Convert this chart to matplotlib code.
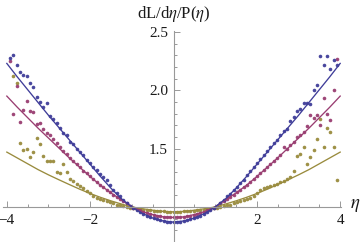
import numpy as np
import matplotlib
matplotlib.use("Agg")
import matplotlib.pyplot as plt
from matplotlib.ticker import MultipleLocator, FixedLocator

plt.rcParams['font.family'] = ['Liberation Serif', 'DejaVu Serif']
plt.rcParams['mathtext.fontset'] = 'stix'

# binned points (eta bin centres)
eta_pts = [-3.92, -3.84, -3.76, -3.68, -3.60, -3.52, -3.44, -3.36, -3.28, -3.20,
           -3.12, -3.04, -2.96, -2.88, -2.80, -2.72, -2.64, -2.56, -2.48, -2.40,
           -2.32, -2.24, -2.16, -2.08, -2.00, -1.92, -1.84, -1.76, -1.68, -1.60,
           -1.52, -1.44, -1.36, -1.28, -1.20, -1.12, -1.04, -0.96, -0.88, -0.80,
           -0.72, -0.64, -0.56, -0.48, -0.40, -0.32, -0.24, -0.16, -0.08, 0.00,
           0.08, 0.16, 0.24, 0.32, 0.40, 0.48, 0.56, 0.64, 0.72, 0.80,
           0.88, 0.96, 1.04, 1.12, 1.20, 1.28, 1.36, 1.44, 1.52, 1.60,
           1.68, 1.76, 1.84, 1.92, 2.00, 2.08, 2.16, 2.24, 2.32, 2.40,
           2.48, 2.56, 2.64, 2.72, 2.80, 2.88, 2.96, 3.04, 3.12, 3.20,
           3.28, 3.36, 3.44, 3.52, 3.60, 3.68, 3.76, 3.84, 3.92]

blue_pts = [2.28, 2.30, 2.22, 2.16, 2.13, 2.12, 2.06, 2.03, 1.94, 1.90,
            1.86, 1.89, 1.78, 1.75, 1.72, 1.68, 1.63, 1.62, 1.56, 1.54,
            1.50, 1.47, 1.445, 1.40, 1.375, 1.345, 1.317, 1.28, 1.26, 1.23,
            1.19, 1.146, 1.117, 1.09, 1.06, 1.03, 1.01, 0.99, 0.97, 0.955,
            0.94, 0.925, 0.915, 0.905, 0.895, 0.885, 0.88, 0.875, 0.872, 0.87,
            0.872, 0.875, 0.88, 0.885, 0.895, 0.905, 0.915, 0.925, 0.94, 0.955,
            0.97, 0.99, 1.01, 1.035, 1.06, 1.09, 1.115, 1.145, 1.175, 1.205,
            1.235, 1.27, 1.305, 1.34, 1.375, 1.41, 1.445, 1.48, 1.515, 1.545,
            1.575, 1.615, 1.65, 1.665, 1.74, 1.77, 1.82, 1.84, 1.89, 1.89,
            1.88, 2.00, 2.045, 2.29, 2.22, 2.29, 2.18, 2.26, 2.22]

purple_pts = [2.25, 1.80, 2.04, 1.73, 1.83, 1.91, 1.825, 1.81, 1.71, 1.72,
              1.67, 1.63, 1.62, 1.58, 1.55, 1.51, 1.48, 1.45, 1.42, 1.39,
              1.37, 1.34, 1.31, 1.29, 1.265, 1.24, 1.215, 1.19, 1.17, 1.145,
              1.125, 1.105, 1.085, 1.065, 1.05, 1.03, 1.01, 0.995, 0.98, 0.97,
              0.96, 0.95, 0.94, 0.93, 0.925, 0.92, 0.915, 0.912, 0.91, 0.91,
              0.91, 0.912, 0.915, 0.92, 0.925, 0.93, 0.94, 0.95, 0.96, 0.97,
              0.98, 0.995, 1.01, 1.03, 1.05, 1.065, 1.085, 1.105, 1.125, 1.145,
              1.17, 1.19, 1.215, 1.24, 1.265, 1.29, 1.315, 1.34, 1.37, 1.39,
              1.42, 1.445, 1.515, 1.50, 1.53, 1.56, 1.60, 1.62, 1.645, 1.69,
              1.79, 1.76, 1.79, 1.70, 1.93, 1.80, 1.745, 2.00, 2.27]

gold_pts = [np.nan, 2.12, 2.06, 1.55, 1.49, 1.50, 1.43, 1.47, 1.59, 1.54,
            1.44, 1.39, 1.39, 1.39, 1.30, 1.29, 1.37, 1.30, 1.24, 1.22,
            1.20, 1.18, 1.16, 1.14, 1.12, 1.095, 1.08, 1.07, 1.06, 1.05,
            1.04, 1.03, 1.02, 1.015, 1.01, 1.0, 0.995, 0.99, 0.985, 0.982,
            0.978, 0.974, 0.971, 0.968, 0.966, 0.964, 0.962, 0.96, 0.96, 0.96,
            0.96, 0.96, 0.962, 0.964, 0.966, 0.968, 0.971, 0.974, 0.978, 0.982,
            0.985, 0.99, 0.995, 1.0, 1.01, 1.015, 1.02, 1.03, 1.04, 1.05,
            1.06, 1.07, 1.08, 1.095, 1.12, 1.145, 1.16, 1.17, 1.18, 1.19,
            1.20, 1.21, 1.225, 1.24, 1.26, 1.31, 1.44, 1.45, 1.51, 1.37,
            1.43, 1.49, 1.58, 1.75, 1.51, 1.68, 1.645, 1.51, 1.23]

# fitted curves
eta_fit = [-4.0, -3.75, -3.5, -3.25, -3.0, -2.75, -2.5, -2.25, -2.0, -1.75,
           -1.5, -1.25, -1.0, -0.75, -0.5, -0.25, 0.0, 0.25, 0.5, 0.75,
           1.0, 1.25, 1.5, 1.75, 2.0, 2.25, 2.5, 2.75, 3.0, 3.25,
           3.5, 3.75, 4.0]

blue_fit = [2.23, 2.115, 2.005, 1.895, 1.785, 1.68, 1.575, 1.47, 1.365, 1.26,
            1.16, 1.07, 1.0, 0.945, 0.905, 0.88, 0.87, 0.88, 0.905, 0.945,
            1.0, 1.07, 1.16, 1.26, 1.365, 1.47, 1.575, 1.68, 1.785, 1.895,
            2.005, 2.115, 2.23]

purple_fit = [1.95, 1.855, 1.765, 1.675, 1.59, 1.505, 1.42, 1.34, 1.26, 1.185,
              1.12, 1.06, 1.0, 0.96, 0.935, 0.915, 0.91, 0.915, 0.935, 0.96,
              1.0, 1.06, 1.12, 1.185, 1.26, 1.34, 1.42, 1.505, 1.59, 1.675,
              1.765, 1.855, 1.95]

gold_fit = [1.47, 1.42, 1.37, 1.32, 1.275, 1.233, 1.192, 1.152, 1.115, 1.082,
            1.052, 1.025, 1.0, 0.985, 0.972, 0.962, 0.958, 0.962, 0.972, 0.985,
            1.0, 1.025, 1.052, 1.082, 1.115, 1.152, 1.192, 1.233, 1.275, 1.32,
            1.37, 1.42, 1.47]

c_blue = (0.2472, 0.24, 0.6)
c_purple = (0.6, 0.24, 0.4429)
c_gold = (0.6, 0.547, 0.24)

fig = plt.figure(figsize=(3.63, 2.42), dpi=100)
ax = fig.add_axes([0.0096, 0.005, 0.931, 0.868])

for vals, col in [(gold_pts, c_gold), (purple_pts, c_purple), (blue_pts, c_blue)]:
    ax.plot(eta_pts, vals, 'o', color=col, ms=2.6, mew=0, alpha=0.95)

for vals, col in [(gold_fit, c_gold), (purple_fit, c_purple), (blue_fit, c_blue)]:
    ax.plot(eta_fit, vals, '-', color=col, lw=0.95)

ax.set_xlim(-4.08, 4.03)
ax.set_ylim(0.71, 2.51)

for s in ['top', 'right']:
    ax.spines[s].set_visible(False)
ax.spines['left'].set_position(('data', 0))
ax.spines['bottom'].set_position(('data', 1.0))
for s in ['left', 'bottom']:
    ax.spines[s].set_color('#999999')
    ax.spines[s].set_linewidth(0.8)

ax.xaxis.set_major_locator(FixedLocator([-4, -2, 2, 4]))
ax.xaxis.set_minor_locator(MultipleLocator(0.5))
ax.yaxis.set_major_locator(FixedLocator([1.5, 2.0, 2.5]))
ax.yaxis.set_minor_locator(MultipleLocator(0.1))
ax.set_xticklabels(['\u22124', '\u22122', '2', '4'])
ax.set_yticklabels(['1.5', '2.0', '2.5'])

ax.tick_params(which='both', direction='in', color='#999999', width=0.7,
               labelsize=11, labelcolor='#1a1a1a')
ax.tick_params(which='major', length=4)
ax.tick_params(which='minor', length=2.5)
ax.tick_params(axis='x', pad=5)
ax.tick_params(axis='y', pad=4)

fig.text(173.5 / 363, 1 - 14 / 242, r'dL/d$\eta$/P($\eta$)', ha='center', va='center',
         fontsize=12, color='#1a1a1a')
fig.text(355 / 363, 1 - 206 / 242, r'$\eta$', ha='center', va='center',
         fontsize=13.5, color='#1a1a1a')

fig.savefig('out.png', dpi=100)
